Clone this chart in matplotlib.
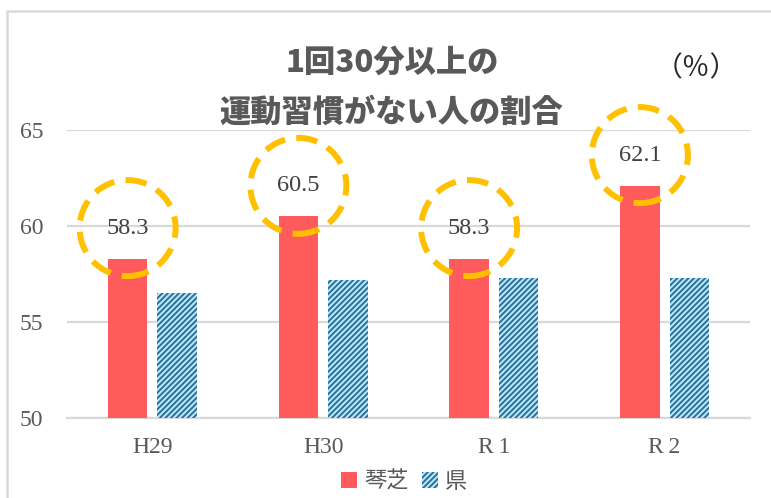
import matplotlib
matplotlib.use('Agg')
import matplotlib.pyplot as plt
from matplotlib.patches import Rectangle
import numpy as np

## data
years = ['H29', 'H30', 'R\u20091', 'R\u20092']
kotoshiba = [58.3, 60.5, 58.3, 62.1]
ken = [56.5, 57.2, 57.3, 57.3]
series_names = ['琴芝', '県']
yticks = [50, 55, 60, 65]

red = '#ff5a5c'
hatch_face = '#b5ecf8'
hatch_line = '#2f6d9c'
gold = '#ffc000'
grey = '#595959'
grid = '#d9d9d9'

plt.rcParams['font.family'] = ['Noto Sans CJK JP', 'DejaVu Sans']
plt.rcParams['hatch.linewidth'] = 1.4

fig = plt.figure(figsize=(7.71, 4.98), dpi=100)
W, H = 771, 498
ax = fig.add_axes([67 / W, 1 - 418 / H, (750 - 67) / W, (418 - 130) / H])

x = np.arange(len(years))
bw = 0.23
off = 0.145
ax.bar(x - off, kotoshiba, bw, color=red, zorder=3)
ax.bar(x + off, ken, bw, color=hatch_face, edgecolor=hatch_line, linewidth=0,
       hatch='//////', zorder=3)

for xi, v in zip(x - off, kotoshiba):
    ax.annotate('%.1f' % v, (xi, v), xytext=(0, 22), textcoords='offset points',
                ha='center', va='center', fontsize=17.5, color='#404040',
                family='Liberation Serif', zorder=5,
                bbox=dict(boxstyle='circle,pad=1.1', fc='none', ec=gold, lw=4.3,
                          ls=(0, (3.6, 1.9))))

ax.set_xlim(-0.5, len(years) - 0.5)
ax.set_ylim(50, 65)
ax.set_yticks(yticks)
ax.set_xticks(x)
ax.set_xticklabels(years)
for lab in ax.get_xticklabels() + ax.get_yticklabels():
    lab.set_family('Liberation Serif')
    lab.set_fontsize(17)
    lab.set_color(grey)
ax.tick_params(length=0, pad=14)
ax.tick_params(axis='y', pad=17)
ax.yaxis.grid(True, color=grid, lw=1.6, zorder=0)
ax.set_axisbelow(True)
for s in ['top', 'right', 'left']:
    ax.spines[s].set_visible(False)
ax.spines['bottom'].set_color(grid)
ax.spines['bottom'].set_linewidth(1.6)
ax.patch.set_alpha(0)

# chart border (cut off at right and bottom)
fig.patches.append(Rectangle((7 / W, -0.1), 1.2, 1 - 11 / H + 0.1, transform=fig.transFigure,
                             fill=False, ec=grid, lw=1.8))

fig.text(392 / W, 1 - 62 / H, '1回30分以上の', ha='center', va='center',
         fontsize=22.5, fontweight='heavy', color=grey)
fig.text(391 / W, 1 - 112 / H, '運動習慣がない人の割合', ha='center', va='center',
         fontsize=22.5, fontweight='heavy', color=grey)
fig.text(696 / W, 1 - 68 / H, '（％）', ha='center', va='center', fontsize=20, color='#262626')

handles = [Rectangle((0, 0), 1, 1, fc=red, lw=0),
           Rectangle((0, 0), 1, 1, fc=hatch_face, ec=hatch_line, lw=0, hatch='//////')]
leg = fig.legend(handles, series_names, loc='center', bbox_to_anchor=(404 / W, 1 - 481 / H),
                 ncol=2, frameon=False, handlelength=0.75, handleheight=0.75,
                 handletextpad=0.3, columnspacing=0.6, fontsize=16)
for t in leg.get_texts():
    t.set_color(grey)

fig.savefig('out.png', dpi=100)
